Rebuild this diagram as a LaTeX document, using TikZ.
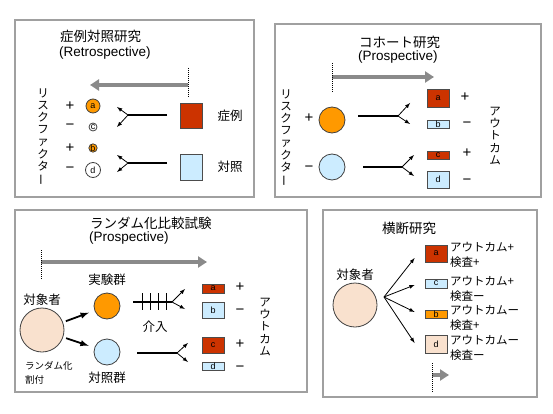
\documentclass[tikz,border=0pt]{standalone}
\usepackage{fontspec}
\setmainfont{Liberation Sans}
\newfontfamily\jp{Noto Sans CJK JP}
\usetikzlibrary{arrows,arrows.meta,positioning}

\definecolor{panelgray}{HTML}{A0A0A0}
\definecolor{timegray}{HTML}{8A8A8A}
\definecolor{casered}{HTML}{CC3300}
\definecolor{ctrlblue}{HTML}{CCECFF}
\definecolor{expo}{HTML}{FF9900}
\definecolor{subj}{HTML}{F9E1CE}

\begin{document}
\begin{tikzpicture}[x=1pt, y=-1pt]
    \tikzset{
        panel/.style    =   { draw=panelgray
                            , line width=1.6pt
        }
        , ttl/.style    =   { font=\jp\fontsize{13.5}{15}\selectfont
                            , anchor=west
                            , inner sep=0pt
        }
        , eng/.style    =   { font=\fontsize{13.5}{15}\selectfont
                            , anchor=west
                            , inner sep=0pt
        }
        , jtext/.style  =   { font=\jp\fontsize{12.5}{14}\selectfont
                            , inner sep=0pt
        }
        , vert/.style   =   { font=\jp\fontsize{11.5}{12.2}\selectfont
                            , align=center
                            , inner sep=0pt
        }
        , sign/.style   =   { font=\fontsize{15}{15}\selectfont
                            , inner sep=0pt
        }
        , box/.style    =   { rectangle
                            , draw=black!70
                            , line width=0.8pt
                            , inner sep=0pt
                            , minimum width=22pt
                            , font=\fontsize{9}{9}\selectfont
        }
        , circ/.style   =   { circle
                            , draw=black!75
                            , line width=0.8pt
                            , inner sep=0pt
                            , font=\fontsize{9}{9}\selectfont
        }
        , time/.style   =   { draw=timegray
                            , line width=3.5pt
                            , -{Triangle[length=9pt,width=11pt]}
        }
        , start/.style  =   { densely dotted
                            , line width=1pt
        }
        , line/.style   =   { line width=1.3pt
        }
        , tip/.style    =   { line width=0.8pt
                            , -latex
        }
        , push/.style   =   { line width=1.8pt
                            , -latex
        }
        , pair/.style   =   { font=\jp\fontsize{11.5}{15}\selectfont
                            , align=left
                            , inner sep=0pt
                            , anchor=west
        }
    }
    \useasboundingbox (0,0) rectangle (553,414);

    % panel frames
    \draw[panel] (15,20)   rectangle (254,197);
    \draw[panel] (275,24)  rectangle (541,197);
    \draw[panel] (15,210)  rectangle (307,392);
    \draw[panel] (323,210) rectangle (537,397);

    % case control study
    \node[ttl](t1)  at (60,36) {症例対照研究};
    \node[eng](t1e) at (59,53) {(Retrospective)};
    \coordinate (g1s) at (188,85);
    \coordinate (g1e) at (90,85);
    \coordinate (d1t) at (188,68);
    \coordinate (d1b) at (188,97);
    \draw[time]  (g1s) -- (g1e);
    \draw[start] (d1t) -- (d1b);

    \node[vert](rf1) at (43,137) {リ\\ス\\ク\\フ\\ァ\\ク\\タ\\\rotatebox[origin=c]{90}{ー}};
    \node[sign] at (70,106) {+};
    \node[sign] at (70,127) {−};
    \node[sign] at (70,148) {+};
    \node[sign] at (70,170) {−};
    \node[circ, fill=expo,  minimum size=14pt](a1) at (93,106) {a};
    \node[circ, fill=white, minimum size=8pt] (c1) at (93,127) {c};
    \node[circ, fill=expo,  minimum size=8pt] (b1) at (93,148) {b};
    \node[circ, fill=white, minimum size=15pt](d1) at (93,170) {d};

    \node[box, fill=casered,  minimum height=25pt](case) at (191,115.5) {};
    \node[box, fill=ctrlblue, minimum height=26pt](ctrl) at (191,167)   {};
    \node[jtext, right=15pt of case] {症例};
    \node[jtext, right=15pt of ctrl] {対照};

    \coordinate (f1s) at (167,115);
    \coordinate (f1)  at (128,115);
    \coordinate (f1u) at (117,107);
    \coordinate (f1d) at (117,127);
    \coordinate (f2s) at (167,163);
    \coordinate (f2)  at (128,163);
    \coordinate (f2u) at (117,155);
    \coordinate (f2d) at (117,172);
    \draw[line] (f1s) -- (f1);
    \draw[tip]  (f1) -- (f1u);
    \draw[tip]  (f1) -- (f1d);
    \draw[line] (f2s) -- (f2);
    \draw[tip]  (f2) -- (f2u);
    \draw[tip]  (f2) -- (f2d);

    % cohort study
    \node[ttl](t2)  at (359,42) {コホート研究};
    \node[eng](t2e) at (358,57) {(Prospective)};
    \coordinate (g2s) at (332,77);
    \coordinate (g2e) at (434,77);
    \coordinate (d2t) at (332,63);
    \coordinate (d2b) at (332,93);
    \draw[time]  (g2s) -- (g2e);
    \draw[start] (d2t) -- (d2b);

    \node[vert](rf2) at (286,138) {リ\\ス\\ク\\フ\\ァ\\ク\\タ\\\rotatebox[origin=c]{90}{ー}};
    \node[sign] at (309,118) {+};
    \node[sign] at (309,169) {−};
    \node[circ, fill=expo,     minimum size=26pt](exp2) at (332,120) {};
    \node[circ, fill=ctrlblue, minimum size=26pt](ctl2) at (332,167) {};

    \coordinate (f3s) at (358,116);
    \coordinate (f3)  at (398,116);
    \coordinate (f3u) at (410,103);
    \coordinate (f3d) at (410,124);
    \coordinate (f4s) at (363,167);
    \coordinate (f4)  at (402,167);
    \coordinate (f4u) at (414,155);
    \coordinate (f4d) at (414,176);
    \draw[line] (f3s) -- (f3);
    \draw[tip]  (f3) -- (f3u);
    \draw[tip]  (f3) -- (f3d);
    \draw[line] (f4s) -- (f4);
    \draw[tip]  (f4) -- (f4u);
    \draw[tip]  (f4) -- (f4d);

    \node[box, fill=casered,  minimum height=18pt](a2) at (438,98)    {a};
    \node[box, fill=ctrlblue, minimum height=8pt] (b2) at (438,124)   {b};
    \node[box, fill=casered,  minimum height=8pt] (c2) at (438,155)   {c};
    \node[box, fill=ctrlblue, minimum height=17pt](d2) at (438,179.5) {d};
    \node[sign] at (465,97)  {+};
    \node[sign] at (467,125) {−};
    \node[sign] at (467,153) {+};
    \node[sign] at (467,182) {−};
    \node[vert](oc2) at (495,136) {ア\\ウ\\ト\\カ\\ム};

    % randomized controlled trial
    \node[ttl](t3)  at (90,223) {ランダム化比較試験};
    \node[eng](t3e) at (89,238) {(Prospective)};
    \coordinate (g3s) at (41,262);
    \coordinate (g3e) at (207,262);
    \coordinate (d3t) at (41,250);
    \coordinate (d3b) at (41,280);
    \draw[time]  (g3s) -- (g3e);
    \draw[start] (d3t) -- (d3b);

    \node[circ, fill=subj, minimum size=44pt](subj3) at (42,330) {};
    \node[jtext, above=2pt of subj3] {対象者};
    \node[font=\jp\fontsize{9.5}{14}\selectfont, align=left, inner sep=0pt, anchor=west] at (25,373) {ランダム化\\割付};
    \node[circ, fill=expo,     minimum size=26pt](exp3) at (107,306) {};
    \node[circ, fill=ctrlblue, minimum size=26pt](ctl3) at (107,352) {};
    \node[jtext, above=7pt of exp3] {実験群};
    \node[jtext, below=6pt of ctl3] {対照群};
    \draw[push, shorten <=3pt, shorten >=6pt] (subj3) -- (exp3);
    \draw[push, shorten <=3pt, shorten >=6pt] (subj3) -- (ctl3);

    \coordinate (f5s) at (133,302);
    \coordinate (f5)  at (172,302);
    \coordinate (f5u) at (185,289);
    \coordinate (f5d) at (185,309);
    \coordinate (f6s) at (137,353);
    \coordinate (f6)  at (177,353);
    \coordinate (f6u) at (188,343);
    \coordinate (f6d) at (188,362);
    \draw[line] (f5s) -- (f5);
    \foreach \x in {142,150,158,166}
        \draw[line width=1pt] (\x,293) -- (\x,310);
    \draw[tip]  (f5) -- (f5u);
    \draw[tip]  (f5) -- (f5d);
    \draw[line] (f6s) -- (f6);
    \draw[tip]  (f6) -- (f6u);
    \draw[tip]  (f6) -- (f6d);
    \node[jtext](int) at (155,327) {介入};

    \node[box, fill=casered,  minimum height=9pt] (a3) at (213,288.5) {a};
    \node[box, fill=ctrlblue, minimum height=16pt](b3) at (213,310)   {b};
    \node[box, fill=casered,  minimum height=16pt](c3) at (213,345)   {c};
    \node[box, fill=ctrlblue, minimum height=8pt] (d3) at (213,366)   {d};
    \node[sign] at (240,287) {+};
    \node[sign] at (240,312) {−};
    \node[sign] at (240,344) {+};
    \node[sign] at (240,369) {−};
    \node[vert](oc3) at (265,327) {ア\\ウ\\ト\\カ\\ム};

    % cross-sectional study
    \node[ttl](t4) at (382,228) {横断研究};
    \node[circ, fill=subj, minimum size=44pt](subj4) at (355,305) {};
    \node[jtext, above=2pt of subj4] {対象者};
    \coordinate (s4) at (384,297);

    \node[box, fill=casered,  minimum height=17pt](a4) at (436,253.5) {a};
    \node[box, fill=ctrlblue, minimum height=9pt] (c4) at (436,283.5) {c};
    \node[box, fill=expo,     minimum height=8pt] (b4) at (436,314)   {b};
    \node[box, fill=subj,     minimum height=18pt](d4) at (436,344)   {d};
    \draw[tip] (s4) -- ([xshift=-10pt]a4.west |- 0,258);
    \draw[tip] (s4) -- ([xshift=-10pt]c4.west |- 0,285);
    \draw[tip] (s4) -- ([xshift=-10pt]b4.west |- 0,312);
    \draw[tip] (s4) -- ([xshift=-10pt]d4.west |- 0,343);

    \node[pair] at (450,254.5) {アウトカム+\\検査+};
    \node[pair] at (450,289)   {アウトカム+\\検査ー};
    \node[pair] at (450,317.5) {アウトカムー\\検査+};
    \node[pair] at (450,347.5) {アウトカムー\\検査ー};

    \coordinate (g4s) at (432,375);
    \coordinate (g4e) at (449,375);
    \coordinate (d4t) at (432,363);
    \coordinate (d4b) at (432,392);
    \draw[time]  (g4s) -- (g4e);
    \draw[start] (d4t) -- (d4b);
\end{tikzpicture}
\end{document}
